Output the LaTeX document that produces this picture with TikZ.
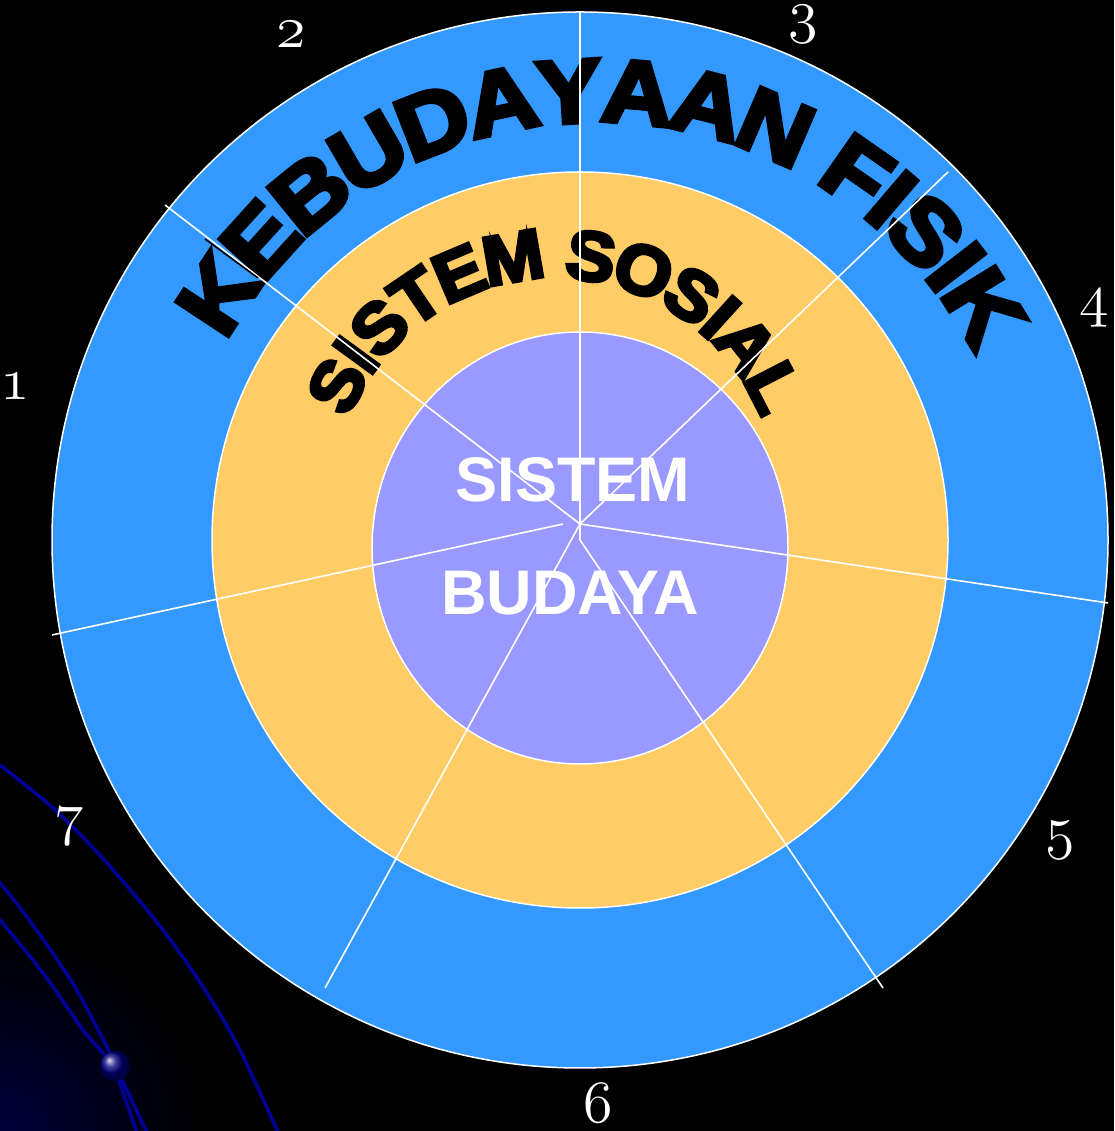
\documentclass[tikz,border=0pt]{standalone}
\usepackage{fontspec}
\usepackage{graphicx}
\usetikzlibrary{decorations.text}
\newfontfamily\heavyfont{Liberation Sans Bold}[FakeBold=5,FakeStretch=1.1]
\newfontfamily\heavyfontb{Liberation Sans Bold}[FakeBold=5,FakeStretch=1.05]
\newfontfamily\corefont{Liberation Sans Bold}
\definecolor{ringblue}{HTML}{3399FF}
\definecolor{ringyellow}{HTML}{FFCC66}
\definecolor{ringpurple}{HTML}{9999FF}
\definecolor{curveblue}{HTML}{000099}
\definecolor{glow}{HTML}{00003A}
\newcommand\oldnum[1]{\scalebox{5}{\fontencoding{OML}\fontfamily{cmm}\fontseries{m}\fontshape{it}\fontsize{12}{12}\selectfont #1}}
\newcommand\outerfont{\heavyfont\fontsize{90}{90}\selectfont}
\newcommand\midfont{\heavyfontb\fontsize{70}{70}\selectfont}
\newcommand\corefontsz{\corefont\fontsize{63}{63}\selectfont}
\begin{document}
\begin{tikzpicture}[x=1pt,y=1pt,
  ringline/.style={draw=white, line width=1.5pt},
  spoke/.style={draw=white, line width=1.6pt},
  num/.style={text=white, anchor=base, inner sep=0pt},
  core/.style={text=white, font=\corefontsz, anchor=base, inner sep=0pt},
  deco/.style={draw=curveblue, line width=3.5pt}]
\fill[black] (0,0) rectangle (1114,1131);
\useasboundingbox (0,0) rectangle (1114,1131);
% corner glow
\begin{scope}
  \clip (0,0) rectangle (1114,1131);
  \shade[inner color=glow, outer color=black] (0,0) circle[radius=200pt];
\end{scope}
% decorative curves
\draw[deco] plot[smooth] coordinates {(-4,369) (53,323) (107,268) (163,201) (207,138) (240,81) (281,-8)};
\draw[deco] plot[smooth] coordinates {(-4,253) (27,214) (72,149) (107,84) (116,64) (150,-8)};
\draw[deco] plot[smooth] coordinates {(-4,216) (43,158) (83,101) (113,63) (139,-8)};
\shade[ball color=curveblue!85!black] (115,65) circle[radius=15pt];
% rings
\filldraw[fill=ringblue, ringline] (580,591) circle[radius=528pt];
\filldraw[fill=ringyellow, ringline] (580,591) circle[radius=368pt];
\filldraw[fill=ringpurple, ringline] (580,583) ellipse[x radius=208pt, y radius=216pt];
% curved texts
\path[decorate, decoration={text along path, text={|\outerfont|KEBUDAYAAN FISIK},
   text align={fit to path}, raise=-32pt, text color=black}]
   (597,586) ++(151:455pt) arc[start angle=151, end angle=28, radius=455pt];
\path[decorate, decoration={text along path, text={|\midfont|SISTEM SOSIAL},
   text align={fit to path}, raise=-25pt, text color=black}]
   (555,631) ++(158:247pt) arc[start angle=158, end angle=22, radius=247pt];
% core text
\node[core] (sistem) at (573,629) {SISTEM};
\node[core] (budaya) at (570,516) {BUDAYA};
% spokes
\draw[spoke] (580,1119) -- (580,591);
\draw[spoke] (165,926) -- (580,607);
\draw[spoke] (948,959) -- (580,607);
\draw[spoke] (580,607) -- (1108,528);
\draw[spoke] (563,607) -- (52,496);
\draw[spoke] (580,607) -- (325,143);
\draw[spoke] (580,591) -- (883,143);
\draw[black, line width=1.6pt] (205,892) -- (258,853);
% numbers
\node[num] (n1) at (15,731) {\oldnum{1}};
\node[num] (n2) at (291,1083) {\oldnum{2}};
\node[num] (n3) at (803,1099) {\oldnum{3}};
\node[num] (n4) at (1094,815) {\oldnum{4}};
\node[num] (n5) at (1060,283) {\oldnum{5}};
\node[num] (n6) at (598,9) {\oldnum{6}};
\node[num] (n7) at (69,297) {\oldnum{7}};
\end{tikzpicture}
\end{document}
